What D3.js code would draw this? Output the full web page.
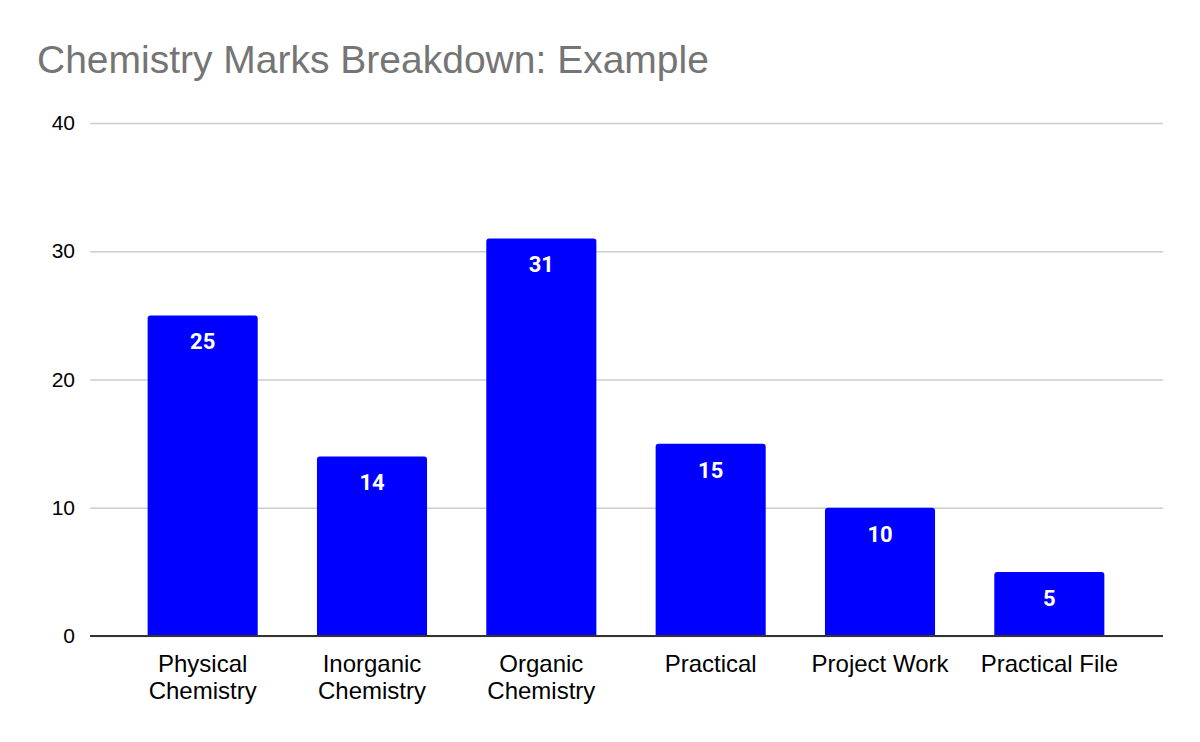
<!DOCTYPE html>
<html lang="en">
<head>
<meta charset="UTF-8">
<title>Chemistry Marks Breakdown</title>
<script src="https://d3js.org/d3.v7.min.js"></script>
<style>
  body { margin: 0; background: #fff; }
  .title { font-family: "Liberation Sans", Arial, sans-serif; font-size: 39px; fill: #757575; }
  .tick text { font-family: "Liberation Sans", Arial, sans-serif; fill: #000; }
  .bar-label { font-family: Roboto, sans-serif; font-weight: bold; font-size: 22px; fill: #fff; }
</style>
</head>
<body>
<div id="chart"></div>
<script>
// data
const categories = ["Physical Chemistry", "Inorganic Chemistry", "Organic Chemistry", "Practical", "Project Work", "Practical File"];
const marks = [25, 14, 31, 15, 10, 5];
const yTicks = [0, 10, 20, 30, 40];

const W = 1200, H = 742;
const plot = { left: 90, right: 1163, top: 123, bottom: 636 };

const svg = d3.select("#chart").append("svg")
    .attr("width", W)
    .attr("height", H);

svg.append("text")
    .attr("class", "title")
    .attr("x", 37)
    .attr("y", 73)
    .text("Chemistry Marks Breakdown: Example");

const x = d3.scaleBand()
    .domain(categories)
    .range([118, 1134])
    .paddingInner(0.35)
    .paddingOuter(0.175);

const y = d3.scaleLinear().domain([0, 40]).range([plot.bottom, plot.top]);

// gridlines + y labels
const yAxis = svg.append("g")
    .attr("transform", "translate(" + plot.left + ",0)")
    .call(d3.axisLeft(y).tickValues(yTicks).tickSize(-(plot.right - plot.left)).tickPadding(15));
yAxis.select(".domain").remove();
yAxis.selectAll(".tick line").attr("stroke", "#cccccc").attr("stroke-width", 1.5);
yAxis.selectAll(".tick text").style("font-size", "21px");

// bars with rounded top corners
function barPath(x0, w, yTop, yBot, r) {
    return "M" + x0 + "," + yBot +
        "V" + (yTop + r) +
        "Q" + x0 + "," + yTop + " " + (x0 + r) + "," + yTop +
        "H" + (x0 + w - r) +
        "Q" + (x0 + w) + "," + yTop + " " + (x0 + w) + "," + (yTop + r) +
        "V" + yBot + "Z";
}

svg.selectAll(".bar")
    .data(marks)
  .enter().append("path")
    .attr("class", "bar")
    .attr("fill", "#0000ff")
    .attr("d", (d, i) => barPath(x(categories[i]), x.bandwidth(), y(d), y(0), 3));

svg.selectAll(".bar-label")
    .data(marks)
  .enter().append("text")
    .attr("class", "bar-label")
    .attr("text-anchor", "middle")
    .attr("x", (d, i) => x(categories[i]) + x.bandwidth() / 2)
    .attr("y", d => y(d) + 34)
    .text(d => d);

// baseline
svg.append("line")
    .attr("x1", plot.left).attr("x2", plot.right)
    .attr("y1", y(0)).attr("y2", y(0))
    .attr("stroke", "#333333")
    .attr("stroke-width", 2);

// x labels, wrapped onto two lines
const xAxis = svg.append("g")
    .attr("transform", "translate(0," + y(0) + ")")
    .call(d3.axisBottom(x).tickSize(0).tickPadding(0));
xAxis.select(".domain").remove();
xAxis.selectAll(".tick text")
    .style("font-size", "24px")
    .each(function(d) {
        const t = d3.select(this);
        const words = d.split(" ");
        const lines = (d === "Project Work" || d === "Practical File") ? [d] : words;
        t.text(null).attr("y", 0).attr("dy", null);
        lines.forEach((ln, k) => {
            t.append("tspan")
                .attr("x", 0)
                .attr("y", 36 + k * 27)
                .text(ln);
        });
    });
</script>
</body>
</html>
